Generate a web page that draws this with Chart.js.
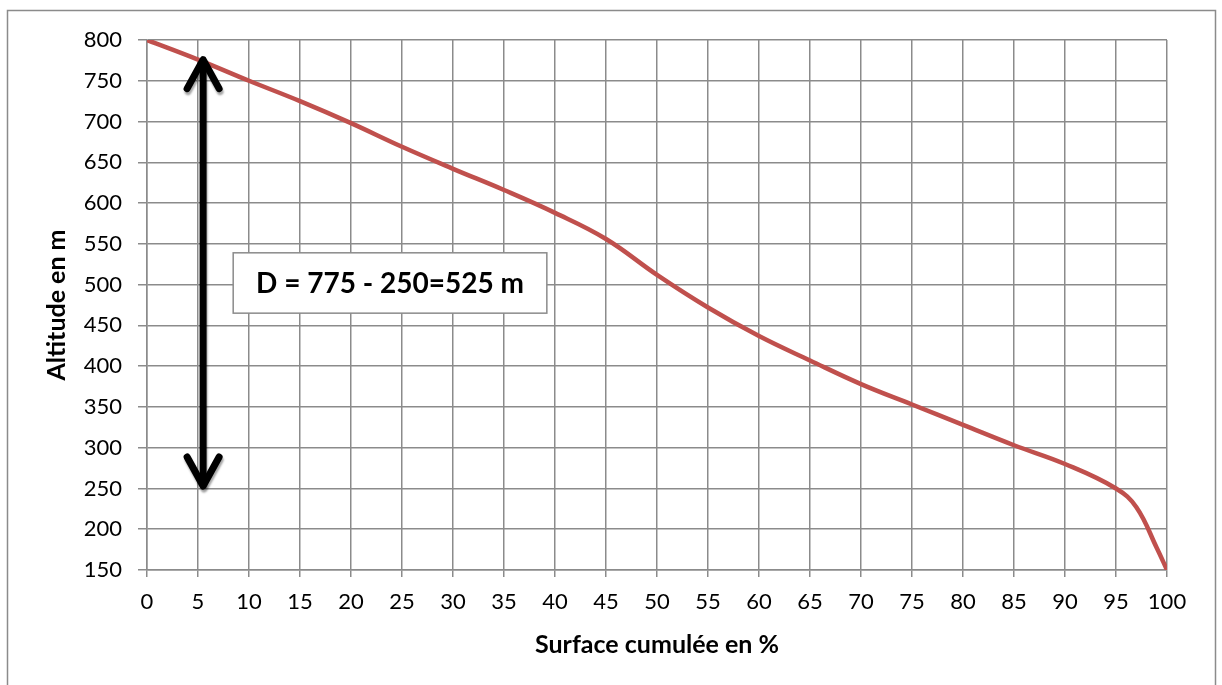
<!DOCTYPE html>
<html>
<head>
<meta charset="utf-8">
<script src="https://cdn.jsdelivr.net/npm/chart.js@4/dist/chart.umd.min.js"></script>
<style>
  html, body { margin: 0; padding: 0; background: #ffffff; }
  .graph-container { width: 1222px; height: 685px; position: relative; }
</style>
</head>
<body>
<div class="graph-container"><canvas id="graph"></canvas></div>
<script>
// hypsometric curve
const surfacePct = [0, 5, 10, 15, 20, 25, 30, 35, 40, 45, 50, 55, 60, 65, 70, 75, 80, 85, 90, 95, 97, 99, 100];
const altitude = [800, 776, 750, 725, 698, 669, 642, 616, 588, 556, 512, 472, 437, 407, 378, 353, 328, 303, 280, 250, 227, 177, 150];

// the double arrow and its label (data units)
const arrowX = 5.5;
const arrowTop = 776;
const arrowBottom = 253;
const boxText = 'D = 775 - 250=525 m';
const boxLeft = 8.45;
const boxRight = 39.2;
const boxTop = 539;
const boxBottom = 465;

const gridColor = '#8b8b8b';
const lineColor = '#C0504D';
const fontFamily = 'Lato, "Open Sans", sans-serif';

/**
 * Draws the outer frame of the chart, like the Excel chart area border
 */
const framePlugin = {
    id: 'frame',
    beforeDraw: (chart) => {
        const ctx = chart.ctx;
        ctx.save();
        ctx.strokeStyle = gridColor;
        ctx.lineWidth = 1.5;
        ctx.strokeRect(7.5, 10.5, chart.width - 14, chart.height + 20);
        ctx.restore();
    }
};

/**
 * Open chevron arrow head with its tip at (x, y)
 */
const drawHead = (ctx, x, y, dir) => {
    ctx.beginPath();
    ctx.moveTo(x - 16, y + dir * 29);
    ctx.lineTo(x, y);
    ctx.lineTo(x + 16, y + dir * 29);
    ctx.stroke();
}

/**
 * Draws the double arrow and the text box on top of the curve
 */
const annotationPlugin = {
    id: 'dropAnnotation',
    afterDatasetsDraw: (chart) => {
        const { ctx, scales } = chart;
        const x = scales.x.getPixelForValue(arrowX);
        const yTop = scales.y.getPixelForValue(arrowTop);
        const yBottom = scales.y.getPixelForValue(arrowBottom);

        ctx.save();
        ctx.strokeStyle = '#000000';
        ctx.lineWidth = 7;
        ctx.lineCap = 'round';
        ctx.lineJoin = 'round';
        ctx.shadowColor = 'rgba(0, 0, 0, 0.35)';
        ctx.shadowOffsetX = 1;
        ctx.shadowOffsetY = 3;
        ctx.shadowBlur = 2;

        ctx.beginPath();
        ctx.moveTo(x, yTop + 3);
        ctx.lineTo(x, yBottom - 3);
        ctx.stroke();
        drawHead(ctx, x, yTop, 1);
        drawHead(ctx, x, yBottom, -1);
        ctx.restore();

        const left = scales.x.getPixelForValue(boxLeft);
        const right = scales.x.getPixelForValue(boxRight);
        const top = scales.y.getPixelForValue(boxTop);
        const bottom = scales.y.getPixelForValue(boxBottom);

        ctx.save();
        ctx.fillStyle = '#ffffff';
        ctx.fillRect(left, top, right - left, bottom - top);
        ctx.strokeStyle = gridColor;
        ctx.lineWidth = 1.5;
        ctx.strokeRect(left, top, right - left, bottom - top);
        ctx.fillStyle = '#000000';
        ctx.font = 'bold 28px ' + fontFamily;
        ctx.textAlign = 'center';
        ctx.textBaseline = 'middle';
        ctx.fillText(boxText, (left + right) / 2, (top + bottom) / 2 + 1);
        ctx.restore();
    }
};

const points = surfacePct.map((v, i) => ({ x: v, y: altitude[i] }));

const chartConfig = {
    type: 'line',
    data: {
        datasets: [
            {
                label: 'Altitude',
                data: points,
                borderColor: lineColor,
                borderWidth: 4.5,
                pointRadius: 0,
                tension: 0.4,
                fill: false
            }
        ]
    },
    options: {
        responsive: true,
        maintainAspectRatio: false,
        animation: false,
        layout: {
            padding: { left: 0, top: 40, right: 55, bottom: 0 }
        },
        plugins: {
            legend: { display: false },
            tooltip: { enabled: false }
        },
        scales: {
            x: {
                type: 'linear',
                min: 0,
                max: 100,
                afterFit: (scale) => { scale.height = 115; },
                grid: { color: gridColor, lineWidth: 1.5, tickLength: 7, tickColor: gridColor },
                border: { color: gridColor, width: 1.5 },
                ticks: {
                    stepSize: 5,
                    color: '#000000',
                    padding: 12,
                    maxRotation: 0,
                    autoSkip: false,
                    font: { family: fontFamily, size: 22 }
                },
                title: {
                    display: true,
                    text: 'Surface cumulée en %',
                    color: '#000000',
                    padding: { top: 0, bottom: 25 },
                    font: { family: fontFamily, size: 25, weight: 'bold' }
                }
            },
            y: {
                min: 150,
                max: 800,
                afterFit: (scale) => { scale.width = 147; },
                grid: { color: gridColor, lineWidth: 1.5, tickLength: 9, tickColor: gridColor },
                border: { color: gridColor, width: 1.5 },
                ticks: {
                    stepSize: 50,
                    color: '#000000',
                    padding: 16,
                    autoSkip: false,
                    font: { family: fontFamily, size: 22 }
                },
                title: {
                    display: true,
                    text: 'Altitude en m',
                    color: '#000000',
                    padding: { top: 42, bottom: 0 },
                    font: { family: fontFamily, size: 25, weight: 'bold' }
                }
            }
        }
    },
    plugins: [framePlugin, annotationPlugin]
};

const graph = new Chart(document.getElementById('graph'), chartConfig);
</script>
</body>
</html>
